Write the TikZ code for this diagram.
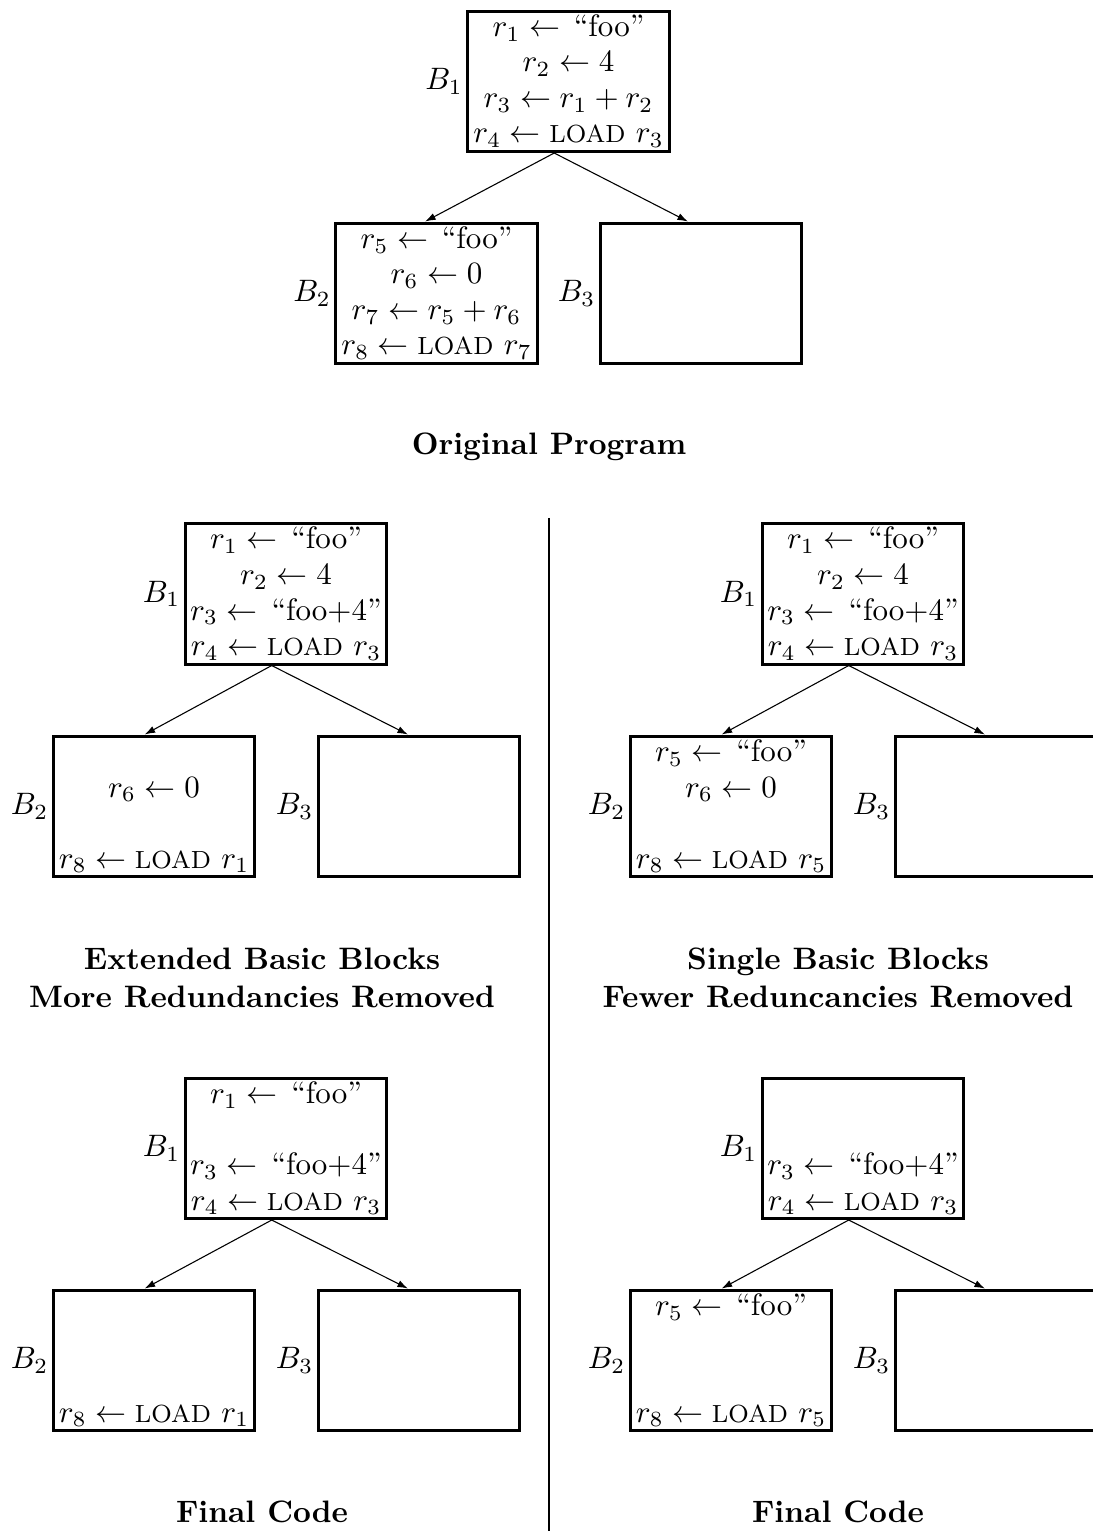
\documentclass[tikz,border=0pt]{standalone}
\usetikzlibrary{arrows.meta,calc,positioning}
\newcommand{\myload}{\mbox{\footnotesize LOAD}}
\newcommand{\myfoo}{\,\mbox{``foo''}}
\newcommand{\myfoofour}{\,\mbox{``foo+4''}}
\begin{document}
\begin{tikzpicture}[x=0.32258pt,y=-0.32258pt,
  blk/.style={draw,line width=0.95pt,minimum width=64.9pt,minimum height=45.2pt,inner sep=0pt},
  ln/.style={anchor=base,inner sep=0pt},
  lbl/.style={inner sep=0pt},
  arr/.style={-{Latex[length=3.4pt,width=2.3pt]},line width=0.35pt,shorten >=0.3pt},
  ttl/.style={font=\bfseries,anchor=base,inner sep=0pt},
  divider/.style={line width=0.95pt}]
\useasboundingbox (0,0) rectangle (1092,1531);

% ---------- Original program ----------
\node[blk] (a1) at (568.5,81.5) {};
\node[blk] (a2) at (436.5,293.5) {};
\node[blk] (a3) at (701,293.5) {};
\node[lbl,left=1pt of a1] (a1l) {$B_1$};
\node[lbl,left=1pt of a2] (a2l) {$B_2$};
\node[lbl,left=1pt of a3] (a3l) {$B_3$};
\node[ln] (a1r1) at ($(a1.center)+(0,-45)$) {$r_1 \leftarrow \myfoo$};
\node[ln] (a1r2) at ($(a1.center)+(0,-9.5)$) {$r_2 \leftarrow 4$};
\node[ln] (a1r3) at ($(a1.center)+(0,26)$) {$r_3 \leftarrow r_1 + r_2$};
\node[ln] (a1r4) at ($(a1.center)+(0,61.5)$) {$r_4 \leftarrow \myload\ r_3$};
\node[ln] (a2r1) at ($(a2.center)+(0,-45)$) {$r_5 \leftarrow \myfoo$};
\node[ln] (a2r2) at ($(a2.center)+(0,-9.5)$) {$r_6 \leftarrow 0$};
\node[ln] (a2r3) at ($(a2.center)+(0,26)$) {$r_7 \leftarrow r_5 + r_6$};
\node[ln] (a2r4) at ($(a2.center)+(0,61.5)$) {$r_8 \leftarrow \myload\ r_7$};
\draw[arr] ($(a1.south west)!0.43!(a1.south east)$) -- ($(a2.north west)!0.44!(a2.north east)$);
\draw[arr] ($(a1.south west)!0.43!(a1.south east)$) -- ($(a3.north west)!0.44!(a3.north east)$);
\node[ttl] (t0) at (549,455) {Original Program};

% ---------- divider ----------
\coordinate (dtop) at (549,518);
\coordinate (dbot) at (549,1531);
\draw[divider] (dtop) -- (dbot);

% ---------- Extended basic blocks ----------
\node[blk] (p1) at (286,594) {};
\node[blk] (p2) at (154,806.5) {};
\node[blk] (p3) at (419,806.5) {};
\node[lbl,left=1pt of p1] (p1l) {$B_1$};
\node[lbl,left=1pt of p2] (p2l) {$B_2$};
\node[lbl,left=1pt of p3] (p3l) {$B_3$};
\node[ln] (p1r1) at ($(p1.center)+(0,-45)$) {$r_1 \leftarrow \myfoo$};
\node[ln] (p1r2) at ($(p1.center)+(0,-9.5)$) {$r_2 \leftarrow 4$};
\node[ln] (p1r3) at ($(p1.center)+(0,26)$) {$r_3 \leftarrow \myfoofour$};
\node[ln] (p1r4) at ($(p1.center)+(0,61.5)$) {$r_4 \leftarrow \myload\ r_3$};
\node[ln] (p2r2) at ($(p2.center)+(0,-9.5)$) {$r_6 \leftarrow 0$};
\node[ln] (p2r4) at ($(p2.center)+(0,61.5)$) {$r_8 \leftarrow \myload\ r_1$};
\draw[arr] ($(p1.south west)!0.43!(p1.south east)$) -- ($(p2.north west)!0.45!(p2.north east)$);
\draw[arr] ($(p1.south west)!0.43!(p1.south east)$) -- ($(p3.north west)!0.45!(p3.north east)$);
\node[ttl] (pt1) at (262,969) {Extended Basic Blocks};
\node[ttl] (pt2) at (262,1007) {More Redundancies Removed};

% ---------- Single basic blocks ----------
\node[blk] (q1) at (863,594) {};
\node[blk] (q2) at (731,806.5) {};
\node[blk] (q3) at (996,806.5) {};
\node[lbl,left=1pt of q1] (q1l) {$B_1$};
\node[lbl,left=1pt of q2] (q2l) {$B_2$};
\node[lbl,left=1pt of q3] (q3l) {$B_3$};
\node[ln] (q1r1) at ($(q1.center)+(0,-45)$) {$r_1 \leftarrow \myfoo$};
\node[ln] (q1r2) at ($(q1.center)+(0,-9.5)$) {$r_2 \leftarrow 4$};
\node[ln] (q1r3) at ($(q1.center)+(0,26)$) {$r_3 \leftarrow \myfoofour$};
\node[ln] (q1r4) at ($(q1.center)+(0,61.5)$) {$r_4 \leftarrow \myload\ r_3$};
\node[ln] (q2r1) at ($(q2.center)+(0,-45)$) {$r_5 \leftarrow \myfoo$};
\node[ln] (q2r2) at ($(q2.center)+(0,-9.5)$) {$r_6 \leftarrow 0$};
\node[ln] (q2r4) at ($(q2.center)+(0,61.5)$) {$r_8 \leftarrow \myload\ r_5$};
\draw[arr] ($(q1.south west)!0.43!(q1.south east)$) -- ($(q2.north west)!0.45!(q2.north east)$);
\draw[arr] ($(q1.south west)!0.43!(q1.south east)$) -- ($(q3.north west)!0.45!(q3.north east)$);
\node[ttl] (qt1) at (838,969) {Single Basic Blocks};
\node[ttl] (qt2) at (838,1007) {Fewer Reduncancies Removed};

% ---------- Final code (left) ----------
\node[blk] (s1) at (286,1148.5) {};
\node[blk] (s2) at (154,1360.5) {};
\node[blk] (s3) at (419,1360.5) {};
\node[lbl,left=1pt of s1] (s1l) {$B_1$};
\node[lbl,left=1pt of s2] (s2l) {$B_2$};
\node[lbl,left=1pt of s3] (s3l) {$B_3$};
\node[ln] (s1r1) at ($(s1.center)+(0,-45)$) {$r_1 \leftarrow \myfoo$};
\node[ln] (s1r3) at ($(s1.center)+(0,26)$) {$r_3 \leftarrow \myfoofour$};
\node[ln] (s1r4) at ($(s1.center)+(0,61.5)$) {$r_4 \leftarrow \myload\ r_3$};
\node[ln] (s2r4) at ($(s2.center)+(0,61.5)$) {$r_8 \leftarrow \myload\ r_1$};
\draw[arr] ($(s1.south west)!0.43!(s1.south east)$) -- ($(s2.north west)!0.45!(s2.north east)$);
\draw[arr] ($(s1.south west)!0.43!(s1.south east)$) -- ($(s3.north west)!0.45!(s3.north east)$);
\node[ttl] (st) at (262,1522) {Final Code};

% ---------- Final code (right) ----------
\node[blk] (u1) at (863,1148.5) {};
\node[blk] (u2) at (731,1360.5) {};
\node[blk] (u3) at (996,1360.5) {};
\node[lbl,left=1pt of u1] (u1l) {$B_1$};
\node[lbl,left=1pt of u2] (u2l) {$B_2$};
\node[lbl,left=1pt of u3] (u3l) {$B_3$};
\node[ln] (u1r3) at ($(u1.center)+(0,26)$) {$r_3 \leftarrow \myfoofour$};
\node[ln] (u1r4) at ($(u1.center)+(0,61.5)$) {$r_4 \leftarrow \myload\ r_3$};
\node[ln] (u2r1) at ($(u2.center)+(0,-45)$) {$r_5 \leftarrow \myfoo$};
\node[ln] (u2r4) at ($(u2.center)+(0,61.5)$) {$r_8 \leftarrow \myload\ r_5$};
\draw[arr] ($(u1.south west)!0.43!(u1.south east)$) -- ($(u2.north west)!0.45!(u2.north east)$);
\draw[arr] ($(u1.south west)!0.43!(u1.south east)$) -- ($(u3.north west)!0.45!(u3.north east)$);
\node[ttl] (ut) at (838,1522) {Final Code};
\end{tikzpicture}
\end{document}
